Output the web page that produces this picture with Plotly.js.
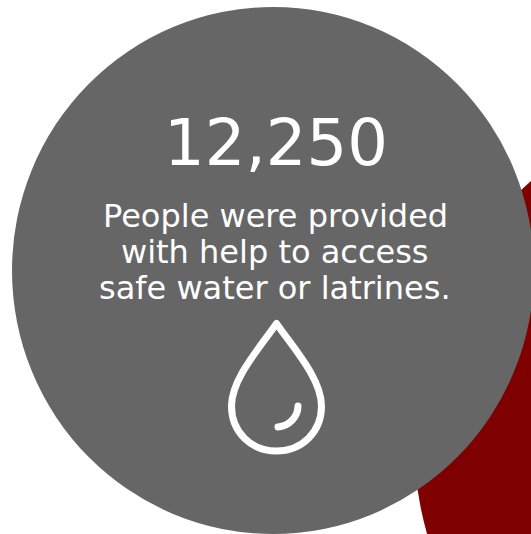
<!DOCTYPE html>
<html><head><meta charset="utf-8">
<script src="https://cdn.plot.ly/plotly-3.0.1.min.js"></script>
<style>html,body{margin:0;padding:0;background:#fff;overflow:hidden}#c{width:531px;height:534px}
.shapelayer path{stroke-linecap:round;stroke-linejoin:round}</style>
</head><body><div id="c"></div>
<script>
const headline = "12,250";
const captionLines = ["People were provided", "with help to access", "safe water or latrines."];
const captionY = [216, 252, 288];
const greyColor = "#666666", redColor = "#7f0000", white = "#ffffff";
const W = 531, H = 534;
const font = "'DejaVu Sans', Verdana, sans-serif";

const dropPath = "M276.5,323.5 C262,345 231.5,378 231.5,406 C231.5,432 251,451 276.5,451 C302,451 321.5,432 321.5,406 C321.5,378 291,345 276.5,323.5 Z";
const glint = "M278,427 C289,426 298,417 298,406";

const shapes = [
 {type:"circle",xref:"x",yref:"y",x0:414,x1:1104,y0:95,y1:785,fillcolor:redColor,line:{width:0},layer:"below"},
 {type:"circle",xref:"x",yref:"y",x0:12,x1:534,y0:7,y1:534,fillcolor:greyColor,line:{width:0},layer:"below"},
 {type:"path",xref:"x",yref:"y",path:dropPath,line:{color:white,width:7},fillcolor:"rgba(0,0,0,0)"},
 {type:"path",xref:"x",yref:"y",path:glint,line:{color:white,width:7}}
];
const annotations = [
 {text:headline,x:276,y:143,xref:"x",yref:"y",showarrow:false,font:{family:font,size:64,color:white}},
 ...captionLines.map((t,i)=>({text:t,x:275,y:captionY[i],xref:"x",yref:"y",showarrow:false,font:{family:font,size:32,color:white}}))
];
Plotly.newPlot("c",[{x:[0],y:[0],mode:"markers",marker:{opacity:0},hoverinfo:"skip",showlegend:false}],{
 width:W,height:H,margin:{l:0,r:0,t:0,b:0},paper_bgcolor:white,plot_bgcolor:white,showlegend:false,
 xaxis:{range:[0,W],visible:false,fixedrange:true},
 yaxis:{range:[H,0],visible:false,fixedrange:true},
 shapes,annotations
},{displayModeBar:false,staticPlot:true});
</script></body></html>
